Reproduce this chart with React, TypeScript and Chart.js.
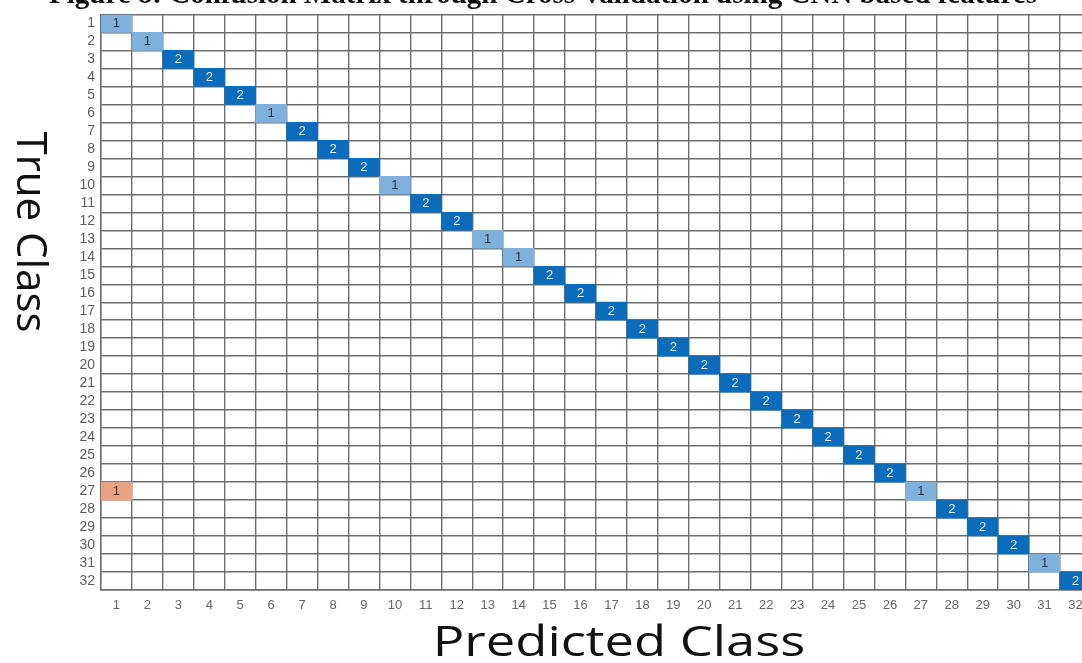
import React, { useEffect, useRef } from "react";
import { Chart, registerables } from "chart.js";

Chart.register(...registerables);

const classLabels: string[] = Array.from({ length: 32 }, (_, i) => String(i + 1));
// diagonal counts (true class i predicted as class i)
const diagonalCounts: number[] = [
  1, 1, 2, 2, 2, 1, 2, 2, 2, 1, 2, 2, 1, 1, 2, 2,
  2, 2, 2, 2, 2, 2, 2, 2, 2, 2, 1, 2, 2, 2, 1, 2,
];
// off-diagonal misclassifications
const offTrue: number[] = [27];
const offPred: number[] = [1];
const offCounts: number[] = [1];

const captionText = "Figure 8: Confusion Matrix through Cross-validation using CNN based features";
const xTitle = "Predicted Class";
const yTitle = "True Class";

const DARK_BLUE = "#0b6cbb";
const LIGHT_BLUE = "#7eb2dd";
const ORANGE = "#e9a283";

type Cell = { x: string; y: [number, number]; v: number; t: number; p: number; diag: boolean };

export default function App() {
  const ref = useRef<HTMLCanvasElement | null>(null);

  useEffect(() => {
    if (!ref.current) return;
    const cells: Cell[] = [];
    diagonalCounts.forEach((v, i) => {
      cells.push({ x: classLabels[i], y: [i, i + 1], v, t: i + 1, p: i + 1, diag: true });
    });
    offCounts.forEach((v, k) => {
      cells.push({ x: classLabels[offPred[k] - 1], y: [offTrue[k] - 1, offTrue[k]], v, t: offTrue[k], p: offPred[k], diag: false });
    });
    const colors = cells.map((c) => (c.diag ? (c.v >= 2 ? DARK_BLUE : LIGHT_BLUE) : ORANGE));

    const labelPlugin = {
      id: "cellLabels",
      afterDatasetsDraw(chart: any) {
        const ctx = chart.ctx;
        const xs = chart.scales.x;
        const ys = chart.scales.y;
        ctx.save();
        ctx.font = "13px 'Liberation Sans', Arial, sans-serif";
        ctx.textAlign = "center";
        ctx.textBaseline = "middle";
        cells.forEach((c) => {
          const px = xs.getPixelForValue(c.p - 1);
          const py = ys.getPixelForValue(c.t - 0.5);
          ctx.fillStyle = c.diag && c.v >= 2 ? "#e8f1fa" : "#333333";
          ctx.fillText(String(c.v), px, py + 0.5);
        });
        ctx.restore();
      },
    };

    const titlePlugin = {
      id: "titles",
      afterDraw(chart: any) {
        const ctx = chart.ctx;
        ctx.save();
        ctx.fillStyle = "#111111";
        ctx.font = "bold 29px 'Liberation Serif', 'Times New Roman', serif";
        ctx.textAlign = "left";
        ctx.textBaseline = "alphabetic";
        ctx.fillText(captionText, 49, 3);

        ctx.font = "42px 'Open Sans', 'Noto Sans', sans-serif";
        ctx.textAlign = "center";
        ctx.textBaseline = "middle";
        ctx.save();
        ctx.translate(619, 644);
        ctx.scale(1.25, 1);
        ctx.fillText(xTitle, 0, 0);
        ctx.restore();

        ctx.translate(29, 232);
        ctx.rotate(Math.PI / 2);
        ctx.fillText(yTitle, 0, 0);
        ctx.restore();
      },
    };

    const chart = new Chart(ref.current, {
      type: "bar",
      data: {
        labels: classLabels,
        datasets: [
          {
            data: cells as any,
            backgroundColor: colors,
            borderWidth: 0,
            barPercentage: 1,
            categoryPercentage: 1,
            grouped: false,
          } as any,
        ],
      },
      options: {
        responsive: false,
        animation: false,
        layout: { padding: { top: 7, left: 0, right: 0, bottom: 0 } },
        plugins: { legend: { display: false }, tooltip: { enabled: false } },
        scales: {
          x: {
            type: "category",
            offset: true,
            grid: { offset: true, color: "#6e6e6e", lineWidth: 1.4, drawTicks: false },
            border: { color: "#6e6e6e", width: 1.4 },
            ticks: {
              color: "#666666",
              font: { size: 13, family: "'Liberation Sans', Arial, sans-serif" },
              padding: 8,
              autoSkip: false,
              maxRotation: 0,
            },
            afterFit: (s: any) => {
              s.height = 73;
            },
          },
          y: {
            type: "linear",
            position: "left",
            reverse: true,
            min: 0,
            max: 32,
            afterBuildTicks: (s: any) => {
              s.ticks = Array.from({ length: 33 }, (_, i) => ({ value: i }));
            },
            ticks: { display: false },
            grid: { color: "#6e6e6e", lineWidth: 1.4, drawTicks: false },
            border: { color: "#6e6e6e", width: 1.4 },
            afterFit: (s: any) => {
              s.width = 0;
            },
          },
          y2: {
            type: "linear",
            position: "left",
            reverse: true,
            min: 0.5,
            max: 32.5,
            afterBuildTicks: (s: any) => {
              s.ticks = classLabels.map((_, i) => ({ value: i + 1 }));
            },
            ticks: {
              color: "#5f5f5f",
              font: { size: 14, family: "'Liberation Sans', Arial, sans-serif" },
              padding: 6,
              autoSkip: false,
              callback: (v: any) => classLabels[Number(v) - 1] ?? "",
            },
            grid: { display: false, drawTicks: false },
            border: { display: false },
            afterFit: (s: any) => {
              s.width = 101;
            },
          },
        },
      } as any,
      plugins: [labelPlugin, titlePlugin],
    });
    return () => chart.destroy();
  }, []);

  return (
    <div
      style={{
        position: "fixed",
        left: 0,
        top: 0,
        width: 1082,
        height: 663,
        overflow: "hidden",
        background: "#ffffff",
      }}
    >
      <canvas ref={ref} width={1091} height={663} style={{ display: "block" }} />
    </div>
  );
}
